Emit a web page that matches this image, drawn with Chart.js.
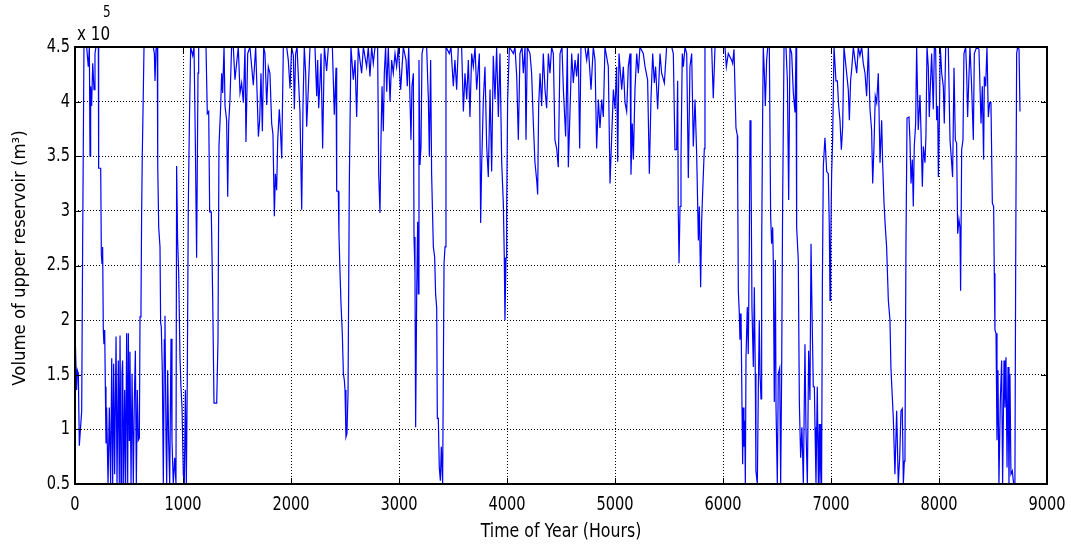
<!DOCTYPE html>
<html>
<head>
<meta charset="utf-8">
<script src="https://cdn.jsdelivr.net/npm/chart.js@4/dist/chart.umd.min.js"></script>
<style>
  html, body { margin: 0; padding: 0; background: #fff; }
  #wrap { width: 1071px; height: 545px; }
</style>
</head>
<body>
<div id="wrap"><canvas id="chartVolume" width="1071" height="545"></canvas></div>
<script>
// ------------------------------------------------------------------
// data (hour of year, volume in 1e5 m3)
const hours = [
  0, 15, 22, 31, 40, 62, 71, 83, 108, 123, 133, 139, 145, 154, 164, 176, 185, 194, 216, 219,
  238, 244, 250, 256, 262, 268, 275, 281, 287, 293, 306, 318, 330, 340, 349, 358, 367, 380, 389, 401,
  410, 417, 426, 435, 441, 451, 460, 469, 478, 488, 494, 503, 509, 519, 528, 540, 549, 559, 568, 577,
  586, 596, 602, 611, 617, 623, 633, 639, 725, 735, 741, 750, 762, 766, 775, 787, 793, 799, 809, 818,
  827, 833, 843, 849, 858, 867, 877, 889, 898, 910, 923, 935, 941, 950, 960, 972, 981, 991, 1003, 1012,
  1022, 1031, 1040, 1049, 1059, 1071, 1090, 1102, 1114, 1126, 1139, 1145, 1213, 1225, 1238, 1247, 1262, 1275, 1287, 1312,
  1324, 1333, 1349, 1358, 1367, 1380, 1389, 1404, 1414, 1423, 1435, 1450, 1466, 1481, 1512,
  1528, 1543, 1559, 1574, 1583, 1599, 1620, 1651, 1673, 1685, 1698, 1710, 1722, 1735, 1747, 1759, 1775, 1790, 1805, 1821,
  1833, 1846, 1855, 1867, 1877, 1892, 1901, 1914, 1929, 1960, 1975, 1991, 2006, 2022, 2031, 2043, 2056, 2068, 2083, 2099,
  2111, 2123, 2136, 2145, 2160, 2176, 2222, 2238, 2247, 2256, 2268, 2278, 2293, 2309, 2330, 2346, 2383, 2401, 2417, 2423,
  2438, 2444, 2454, 2463, 2475, 2485, 2494, 2500, 2509, 2518, 2528, 2540, 2555, 2577, 2593, 2608, 2623, 2654, 2670, 2700,
  2716, 2731, 2747, 2762, 2778, 2802, 2812, 2824, 2833, 2843, 2855, 2864, 2876, 2886, 2901, 2917, 2932, 2947, 2963, 2978,
  2994, 3015,
  3040, 3065, 3077, 3090, 3111, 3120, 3133, 3139, 3148, 3154, 3164, 3173, 3179, 3185, 3194, 3204, 3213, 3225, 3256, 3272,
  3281, 3293, 3302, 3318, 3330, 3339, 3349, 3355, 3364, 3373, 3383, 3392, 3404, 3417, 3426, 3435, 3466, 3481, 3503, 3518,
  3534, 3549, 3580, 3596, 3611, 3627, 3642, 3657, 3673, 3688, 3704, 3719, 3744, 3756, 3765, 3781, 3796, 3812, 3827, 3843,
  3858, 3873, 3889, 3904, 3920, 3935, 3951, 3966, 3975, 3981, 3991, 3997, 4006, 4022, 4059, 4074, 4090, 4105, 4120, 4139,
  4151, 4167, 4176, 4188, 4213, 4228, 4244, 4259, 4275, 4284, 4293, 4306, 4321, 4336, 4352, 4367, 4383, 4398, 4413, 4429,
  4444, 4460, 4475, 4491, 4509, 4522, 4543, 4559, 4568,
  4599, 4614, 4630, 4645, 4660, 4673, 4685, 4722, 4738, 4753, 4778, 4799, 4815, 4830, 4846, 4861, 4877, 4892, 4907, 4938,
  4954, 4969, 4985, 5000, 5015, 5025, 5037, 5062, 5077, 5093, 5108, 5123, 5139, 5148, 5160, 5170, 5185, 5201, 5216, 5231,
  5262, 5278, 5302, 5318, 5333, 5349, 5364, 5376, 5395, 5417, 5432, 5457, 5478, 5525, 5540, 5555, 5571, 5580, 5586, 5593,
  5602, 5611, 5623, 5633, 5648, 5664, 5679, 5694, 5710, 5725, 5741, 5756, 5772, 5781, 5793, 5802, 5812, 5827, 5833, 5895,
  5910, 5926, 6018, 6031, 6049, 6080,
  6089, 6102, 6120, 6133, 6136, 6142, 6151, 6157, 6167, 6176, 6182, 6188, 6194, 6201, 6207, 6213, 6225, 6234, 6244, 6250,
  6259, 6268, 6281, 6290, 6299, 6305, 6318, 6327, 6336, 6343, 6352, 6358, 6367, 6373, 6383, 6392, 6404, 6414, 6429, 6441,
  6450, 6460, 6466, 6475, 6485, 6491, 6503, 6512, 6525, 6534, 6543, 6552, 6565, 6583, 6596, 6608, 6620, 6636, 6651, 6667,
  6676, 6682, 6697, 6707, 6719, 6731, 6744, 6759, 6768, 6781, 6793, 6805, 6815, 6827, 6836, 6846, 6852, 6861, 6873, 6883,
  6892, 6898, 6907, 6913, 6920, 6929, 6944, 6960, 6975, 6984, 6991, 6997, 7006, 7015, 7028, 7046, 7059, 7071, 7083, 7096,
  7108, 7120, 7145, 7160, 7170, 7182, 7191, 7207, 7222, 7238, 7253, 7268, 7284, 7299, 7315, 7330, 7346, 7361, 7376, 7386,
  7398, 7410, 7423, 7438, 7454, 7469, 7478, 7491, 7503, 7515, 7531, 7546, 7555, 7577, 7592, 7608, 7623,
  7636, 7648, 7660, 7670, 7679, 7685, 7694, 7704, 7722, 7731, 7741, 7753, 7762, 7771, 7784, 7793, 7808, 7824, 7833, 7846,
  7855, 7870, 7879, 7889, 7901, 7910, 7920, 7932, 7947, 7957, 7969, 7978, 7988, 7994, 8003, 8012, 8025, 8040, 8049, 8062,
  8086, 8102, 8117, 8126, 8139, 8151, 8163, 8173, 8185, 8194, 8200, 8210, 8222, 8231, 8247, 8256, 8265, 8275, 8287, 8302,
  8318, 8327, 8349, 8370, 8389, 8401, 8413, 8420, 8432, 8444, 8457, 8469, 8481, 8494, 8506, 8512, 8518, 8528, 8537, 8546,
  8555, 8568, 8580, 8589, 8602, 8611, 8620, 8630, 8639, 8648, 8657, 8666, 8679, 8691, 8703, 8710, 8719, 8728, 8741, 8750
];

const volume = [
  1.91, 1.36, 1.54, 1.51, 0.85, 1.17, 2.73, 4.5, 4.5, 4.32, 4.5, 3.5, 4.14, 3.96, 4.35, 4.11, 4.44, 4.5, 4.5, 3.39,
  3.39, 2.6, 2.52, 2.67, 1.91, 1.78, 1.91, 1.39, 0.87, 1.2, 0.5, 1.2, 0.5, 1.65, 0.5, 1.6, 0.59, 1.85, 0.5, 1.63,
  0.5, 1.86, 0.5, 1.51, 1.63, 0.5, 1.36, 0.5, 1.88, 0.5, 1.88, 0.9, 1.71, 0.5, 1.51, 0.5, 1.26, 1.72, 0.5, 1.36,
  0.9, 0.92, 2.03, 2.12, 2.98, 3.51, 4.11, 4.5, 4.5, 4.44, 4.19, 4.48, 4.5, 3.42, 2.85, 2.67, 1.97, 1.94, 1.51, 0.5,
  1.82, 2.04, 0.9, 0.5, 1.54, 0.9, 0.5, 1.83, 0.9, 0.5, 0.74, 0.5, 3.41, 2.73, 2.43, 1.66, 1.39, 1.2, 0.59, 0.5,
  1.36, 0.5, 1.51, 3.04, 3.8, 4.5, 4.42, 4.5, 3.65, 2.57, 4.26, 4.5, 4.5, 3.89, 3.91, 2.99, 2.99, 2.2, 1.24, 1.24,
  1.82, 3.59, 3.96, 4.26, 4.08, 4.5, 3.96, 3.83, 3.13, 3.8, 4.02, 4.5, 4.5, 4.2, 4.5,
  4.08, 4.17, 3.99, 4.5, 3.63, 4.44, 4.5, 4.15, 4.5, 4.11, 3.68, 3.83, 4.26, 3.73, 4.5, 4.44, 3.97, 4.32, 4.26, 3.8,
  3.7, 2.95, 3.34, 3.19, 3.65, 3.93, 3.77, 3.48, 4.5, 4.5, 4.38, 4.12, 4.5, 4.42, 3.93, 4.44, 4.5, 4.23, 3.91, 3.01,
  3.96, 4.5, 4.26, 3.77, 4.11, 4.5, 4.5, 4.05, 4.38, 3.94, 4.17, 4.44, 3.57, 4.5, 4.28, 4.5, 4.5, 3.88, 4.31, 3.18,
  3.18, 2.79, 2.43, 2.15, 1.88, 1.51, 1.45, 1.36, 0.93, 0.96, 1.33, 3.25, 4.5, 4.2, 4.38, 3.86, 4.5, 4.26, 4.5, 4.32,
  4.5, 4.23, 4.5, 4.35, 4.5, 4.5, 3.34, 2.98, 3.65, 4.14, 3.73, 4.26, 4.5, 4.09, 4.5, 4.0, 4.38, 4.26, 4.44, 4.32,
  4.5, 4.11,
  4.5, 4.38, 4.14, 4.5, 3.65, 4.14, 4.26, 2.76, 2.43, 1.02, 2.27, 2.9, 2.24, 4.38, 3.42, 3.59, 4.44, 4.5, 4.5, 4.02,
  3.5, 4.38, 3.34, 2.67, 2.58, 2.24, 2.11, 1.1, 1.1, 0.65, 0.53, 0.84, 0.5, 2.52, 2.67, 4.5, 4.44, 4.5, 4.14, 4.38,
  4.11, 4.5, 4.5, 3.91, 4.26, 4.02, 4.38, 3.86, 4.44, 4.32, 4.5, 4.11, 4.44, 2.89, 3.4, 4.02, 4.32, 3.59, 3.31, 4.11,
  3.36, 4.42, 4.02, 4.5, 3.86, 4.44, 3.44, 3.07, 2.57, 2.0, 2.57, 3.01, 4.02, 4.5, 4.44, 4.5, 4.23, 3.65, 4.44, 4.5,
  4.26, 4.5, 3.65, 4.5, 4.44, 4.26, 3.8, 3.44, 3.28, 3.15, 3.96, 4.26, 3.96, 4.44, 4.11, 3.94, 4.44, 4.26, 4.5, 4.44,
  3.65, 3.57, 3.4, 4.44, 4.5, 4.11, 3.68, 4.5, 3.4,
  4.44, 4.17, 4.38, 4.23, 4.44, 3.57, 4.5, 4.5, 4.38, 4.5, 4.11, 4.5, 4.38, 3.57, 4.02, 3.76, 4.02, 3.86, 4.5, 4.32,
  3.25, 3.67, 4.11, 3.93, 4.32, 3.45, 4.44, 4.11, 4.32, 3.99, 3.91, 4.32, 4.44, 3.33, 3.8, 3.47, 4.11, 4.44, 4.26, 4.5,
  4.44, 4.32, 4.2, 3.34, 4.02, 4.44, 4.17, 4.32, 3.93, 4.44, 4.26, 4.17, 4.5, 4.5, 4.44, 3.56, 3.56, 4.19, 2.98, 2.52,
  3.04, 3.5, 4.44, 4.32, 4.5, 4.44, 3.3, 4.32, 4.44, 3.59, 4.02, 3.53, 2.73, 3.04, 2.3, 2.9, 3.18, 3.57, 4.5, 4.5,
  4.03, 4.5, 4.5, 4.32, 4.44, 4.38,
  4.35, 4.48, 3.76, 3.69, 3.25, 2.27, 2.06, 1.82, 2.06, 1.2, 0.68, 1.2, 0.84, 1.08, 0.5, 1.66, 2.12, 1.69, 2.73, 3.83,
  3.47, 2.12, 1.57, 2.3, 1.51, 0.62, 0.5, 1.36, 2.0, 1.51, 1.28, 2.67, 3.86, 4.5, 4.26, 3.96, 4.38, 4.5, 4.5, 2.96,
  2.7, 2.85, 2.52, 1.25, 2.55, 1.2, 0.5, 1.51, 1.56, 0.5, 1.51, 3.04, 4.5, 4.5, 4.2, 3.1, 4.5, 4.44, 4.08, 3.9,
  4.5, 2.85, 2.55, 1.24, 0.74, 1.02, 0.5, 1.78, 1.02, 0.5, 1.72, 1.27, 2.7, 1.91, 1.39, 1.39, 1.02, 0.5, 1.39, 0.5,
  1.05, 0.5, 1.05, 0.5, 2.3, 3.41, 3.67, 3.36, 3.34, 2.87, 2.18, 2.67, 3.34, 3.65, 4.5, 4.19, 4.19, 3.96, 3.83, 3.56,
  3.77, 4.5, 4.26, 4.11, 3.83, 4.2, 4.29, 4.5, 4.38, 4.26, 4.5, 4.42, 4.5, 4.35, 4.26, 4.05, 4.5, 3.93, 3.74, 3.25,
  3.59, 4.05, 3.99, 4.26, 3.44, 3.83, 3.44, 3.07, 2.85, 2.67, 2.18, 2.0, 1.56, 1.1, 0.59, 1.17, 0.5,
  0.74, 1.17, 1.19, 0.5, 0.71, 0.77, 2.67, 3.85, 3.86, 3.65, 3.25, 3.47, 3.04, 3.59, 3.8, 4.5, 3.74, 4.06, 3.74, 3.22,
  3.59, 3.44, 3.68, 4.5, 4.32, 3.86, 4.14, 4.44, 3.93, 4.5, 4.48, 3.83, 3.96, 3.31, 3.83, 4.5, 4.26, 4.14, 3.8, 4.5,
  4.5, 3.65, 3.44, 3.31, 4.31, 3.65, 3.62, 2.79, 2.92, 2.85, 2.27, 3.56, 3.65, 4.44, 4.5, 4.26, 3.86, 4.17, 4.5, 4.14,
  3.65, 4.44, 4.5, 4.48, 3.8, 4.14, 3.47, 4.23, 4.14, 4.5, 3.86, 3.99, 3.99, 3.07, 3.04, 2.43, 1.91, 1.88, 0.9, 1.54,
  0.5, 1.27, 1.63, 0.5, 1.63, 1.2, 1.66, 0.65, 1.57, 0.5, 1.51, 0.59, 0.62, 0.5, 0.5, 2.49, 4.44, 4.5, 4.48, 3.91
];

const xTicks = [0, 1000, 2000, 3000, 4000, 5000, 6000, 7000, 8000, 9000];
const yTicks = [0.5, 1, 1.5, 2, 2.5, 3, 3.5, 4, 4.5];
const xTitle = 'Time of Year (Hours)';
const yTitle = 'Volume of upper reservoir (m³)';

// ------------------------------------------------------------------
// the reference uses a narrow face, so the text is squeezed sideways
const fontFam = "'DejaVu Sans', sans-serif";

function narrowText(ctx, text, x, y, size, sx, align, base, rot) {
    ctx.save();
    ctx.translate(x, y);
    if (rot) ctx.rotate(rot);
    ctx.scale(sx, 1);
    ctx.font = size + 'px ' + fontFam;
    ctx.textAlign = align;
    ctx.textBaseline = base;
    ctx.fillStyle = '#000';
    ctx.fillText(text, 0, 0);
    ctx.restore();
}

// box round the plot, inner tick marks and all the labels
const frameBox = {
    id: 'frameBox',
    afterDraw(chart) {
        const ctx = chart.ctx;
        const a = chart.chartArea;
        const sx = chart.scales.x, sy = chart.scales.y;
        ctx.save();
        ctx.strokeStyle = '#000';
        ctx.lineWidth = 1;
        ctx.beginPath();
        xTicks.forEach(v => {
            const px = Math.round(sx.getPixelForValue(v)) + 0.5;
            ctx.moveTo(px, a.bottom); ctx.lineTo(px, a.bottom - 6);
            ctx.moveTo(px, a.top); ctx.lineTo(px, a.top + 6);
        });
        yTicks.forEach(v => {
            const py = Math.round(sy.getPixelForValue(v)) + 0.5;
            ctx.moveTo(a.left, py); ctx.lineTo(a.left + 6, py);
            ctx.moveTo(a.right, py); ctx.lineTo(a.right - 6, py);
        });
        ctx.stroke();
        ctx.lineWidth = 2;
        ctx.strokeRect(a.left, a.top, a.right - a.left, a.bottom - a.top);
        ctx.restore();

        xTicks.forEach(v => {
            narrowText(ctx, String(v), sx.getPixelForValue(v), a.bottom + 21, 19, 0.77, 'center', 'middle');
        });
        yTicks.forEach(v => {
            narrowText(ctx, String(v), a.left - 5, sy.getPixelForValue(v), 19, 0.77, 'right', 'middle');
        });
        narrowText(ctx, xTitle, (a.left + a.right) / 2, a.bottom + 48, 19, 0.83, 'center', 'middle');
        narrowText(ctx, yTitle, 21, 258, 17, 0.97, 'center', 'middle', -Math.PI / 2);
        narrowText(ctx, 'x 10', a.left + 2, a.top - 7, 19, 0.8, 'left', 'alphabetic');
        narrowText(ctx, '5', a.left + 28, a.top - 30, 15, 0.8, 'left', 'alphabetic');
    }
};

const dataVolume = {
    datasets: [{
        label: 'Volume',
        data: hours.map((h, i) => ({ x: h, y: volume[i] })),
        borderColor: '#0000ff',
        borderWidth: 1.2,
        pointRadius: 0,
        tension: 0,
        fill: false
    }]
};

const configVolume = {
    type: 'line',
    data: dataVolume,
    options: {
        responsive: false,
        animation: false,
        layout: { padding: { top: 47, right: 24, left: 8, bottom: 0 } },
        plugins: { legend: { display: false }, tooltip: { enabled: false } },
        scales: {
            x: {
                type: 'linear',
                min: 0,
                max: 9000,
                afterBuildTicks: s => { s.ticks = xTicks.map(v => ({ value: v })); },
                afterFit: s => { s.height = 61; },
                ticks: { display: false },
                grid: { color: '#000', lineWidth: 1, drawTicks: false },
                border: { display: false, dash: [1, 2] }
            },
            y: {
                type: 'linear',
                min: 0.5,
                max: 4.5,
                afterBuildTicks: s => { s.ticks = yTicks.map(v => ({ value: v })); },
                afterFit: s => { s.width = 67; },
                ticks: { display: false },
                grid: { color: '#000', lineWidth: 1, drawTicks: false },
                border: { display: false, dash: [1, 2] }
            }
        }
    },
    plugins: [frameBox]
};

const myChartVolume = new Chart(
    document.getElementById('chartVolume'),
    configVolume
);
</script>
</body>
</html>
